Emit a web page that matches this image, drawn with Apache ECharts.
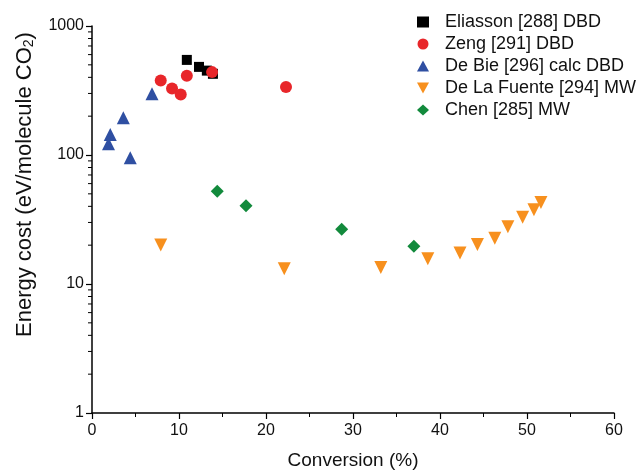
<!DOCTYPE html>
<html>
<head>
<meta charset="utf-8">
<script src="https://cdn.jsdelivr.net/npm/echarts@6/dist/echarts.min.js"></script>
<style>
  html, body { margin: 0; padding: 0; background: #fff; }
  #chart { width: 641px; height: 475px; }
</style>
</head>
<body>
<div id="chart"></div>
<script>
// conversion (%) , energy cost (eV/molecule CO2)
const eliassonX = [10.9, 12.3, 13.2, 13.9];
const eliassonY = [546, 482, 451, 426];
const zengX = [7.9, 9.2, 10.2, 10.9, 13.8, 22.3];
const zengY = [378, 328, 295, 411, 439, 336];
const deBieX = [1.9, 2.1, 3.6, 4.4, 6.9];
const deBieY = [122, 144, 194, 95, 298];
const fuenteX = [7.9, 22.1, 33.2, 38.6, 42.3, 44.3, 46.3, 47.8, 49.5, 50.8, 51.6];
const fuenteY = [20.1, 13.1, 13.4, 15.7, 17.4, 20.2, 22.6, 27.8, 32.9, 37.6, 42.9];
const chenX = [14.4, 17.7, 28.7, 37.0];
const chenY = [52.4, 40.4, 26.6, 19.6];

const seriesNames = ["Eliasson [288] DBD", "Zeng [291] DBD", "De Bie [296] calc DBD",
  "De La Fuente [294] MW", "Chen [285] MW"];

// log minor tick positions 2..9 per decade
const minorTicks = [];
[1, 10, 100].forEach(d => { for (let k = 2; k <= 9; k++) minorTicks.push(d * k); });

const pairs = (xs, ys) => xs.map((x, i) => [x, ys[i]]);
const downTri = "path://M0,0 L10,0 L5,9 Z";

const chart = echarts.init(document.getElementById("chart"));

const option = {
  animation: false,
  textStyle: { fontFamily: "Liberation Sans, Arial, sans-serif" },
  grid: { left: 92, right: 27, top: 26, bottom: 58 },
  legend: {
    data: [
      { name: seriesNames[0], icon: "rect" },
      { name: seriesNames[1], icon: "circle" },
      { name: seriesNames[2], icon: "triangle" },
      { name: seriesNames[3], icon: downTri },
      { name: seriesNames[4], icon: "diamond" }
    ],
    orient: "vertical",
    left: 412,
    top: 8,
    itemWidth: 12,
    itemHeight: 11,
    itemGap: 4,
    textStyle: { fontSize: 18, color: "#111", padding: [0, 0, 0, 11] }
  },
  xAxis: {
    type: "value",
    min: 0,
    max: 60,
    interval: 10,
    name: "Conversion (%)",
    nameLocation: "middle",
    nameGap: 38,
    nameTextStyle: { fontSize: 19, color: "#111" },
    axisLine: { lineStyle: { color: "#000", width: 1.5 } },
    axisTick: { inside: false, length: 6, lineStyle: { color: "#000", width: 1.2 } },
    minorTick: { show: true, splitNumber: 2, length: 4, lineStyle: { color: "#000", width: 1 } },
    axisLabel: { fontSize: 16, color: "#111", margin: 10 },
    splitLine: { show: false }
  },
  yAxis: {
    type: "log",
    logBase: 10,
    min: 1,
    max: 1000,
    name: "Energy cost (eV/molecule CO{sub|2})",
    nameLocation: "middle",
    nameGap: 56,
    nameTextStyle: {
      fontSize: 22,
      color: "#111",
      padding: [0, 0, 0, 70],
      rich: { sub: { fontSize: 14, color: "#111", verticalAlign: "bottom", padding: [8, 0, 0, 0] } }
    },
    axisLine: { show: true, lineStyle: { color: "#000", width: 1.5 } },
    axisTick: { show: true, inside: false, length: 6, lineStyle: { color: "#000", width: 1.2 } },
    axisLabel: { fontSize: 16, color: "#111", margin: 8, formatter: v => String(v) },
    splitLine: { show: false }
  },
  series: [
    {
      name: seriesNames[0], type: "scatter", symbol: "rect", symbolSize: 10,
      itemStyle: { color: "#000", opacity: 1 }, data: pairs(eliassonX, eliassonY), z: 5
    },
    {
      name: seriesNames[1], type: "scatter", symbol: "circle", symbolSize: 12,
      itemStyle: { color: "#e8262a", opacity: 1 }, data: pairs(zengX, zengY), z: 6
    },
    {
      name: seriesNames[2], type: "scatter", symbol: "triangle", symbolSize: 13,
      itemStyle: { color: "#2f4fa2", opacity: 1 }, data: pairs(deBieX, deBieY)
    },
    {
      name: seriesNames[3], type: "scatter", symbol: "triangle", symbolSize: 13, symbolRotate: 180,
      itemStyle: { color: "#f7901e", opacity: 1 }, data: pairs(fuenteX, fuenteY)
    },
    {
      name: seriesNames[4], type: "scatter", symbol: "diamond", symbolSize: 13,
      itemStyle: { color: "#128a3c", opacity: 1 }, data: pairs(chenX, chenY)
    },
    {
      // minor ticks of the log axis
      name: "minor", type: "custom", clip: false, silent: true,
      data: minorTicks.map(v => [0, v]),
      renderItem: (params, api) => {
        const p = api.coord([0, api.value(1)]);
        return {
          type: "line",
          shape: { x1: p[0] - 4, y1: p[1], x2: p[0], y2: p[1] },
          style: { stroke: "#000", lineWidth: 1 }
        };
      }
    }
  ]
};

chart.setOption(option);
</script>
</body>
</html>
